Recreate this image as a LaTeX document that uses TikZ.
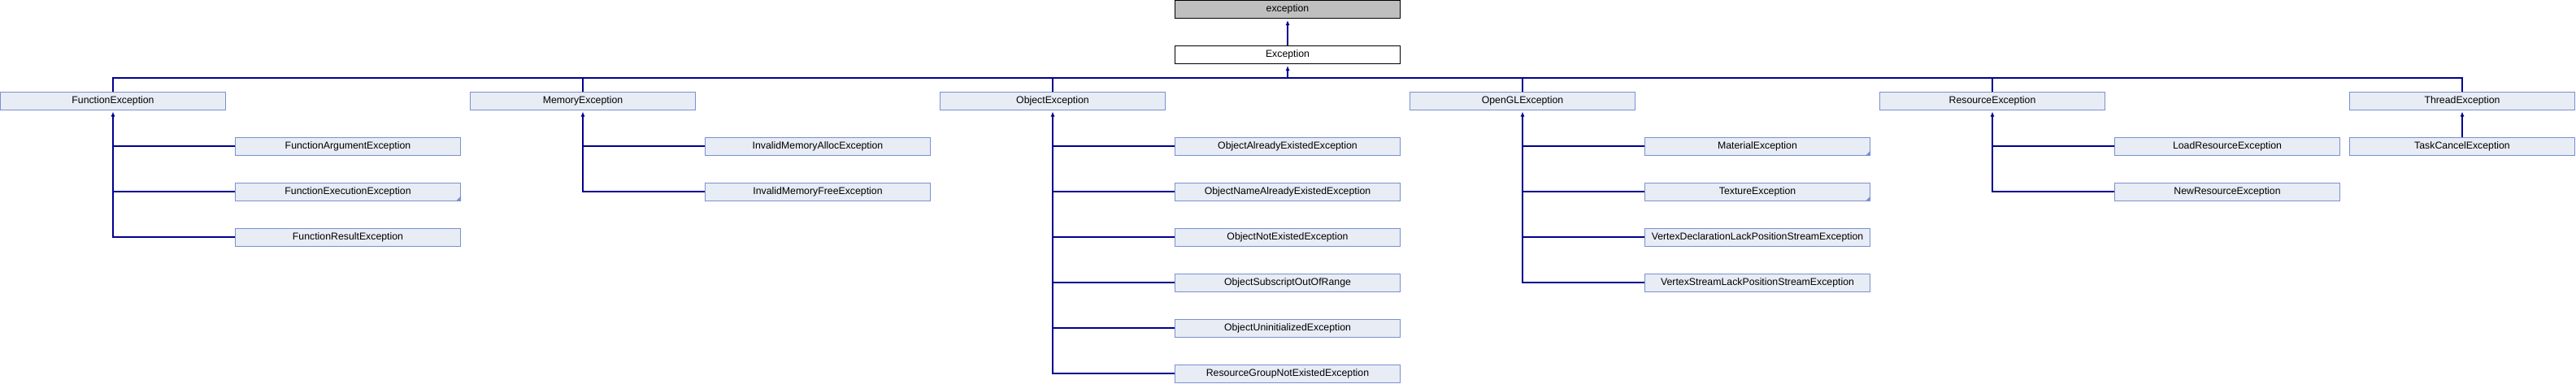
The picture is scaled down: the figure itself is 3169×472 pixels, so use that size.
\documentclass[tikz,border=0pt]{standalone}
\usepackage{fontspec}
\setmainfont{Liberation Sans}
\usetikzlibrary{arrows.meta}
\definecolor{boxfill}{RGB}{232,236,245}
\definecolor{boxline}{RGB}{122,145,208}
\definecolor{conn}{RGB}{0,0,140}
\definecolor{topfill}{RGB}{191,191,191}
\tikzset{
  cls/.style={draw=boxline, fill=boxfill, line width=1pt, minimum width=277pt, minimum height=22pt, inner sep=0pt, font=\fontsize{12.3}{14}\selectfont},
  rootcls/.style={cls, draw=black, fill=topfill},
  basecls/.style={cls, draw=black, fill=white},
  link/.style={draw=conn, line width=1.1pt},
  arr/.style={link, -{Latex[length=6pt,width=5pt]}, shorten >=2pt},
  more/.style={fill=boxline}
}
\begin{document}
\begin{tikzpicture}[x=1pt,y=-1pt]
\useasboundingbox (0,0) rectangle (3169,472);
% top
\node[rootcls] (root) at (1584,11.5) {exception};
\node[basecls] (exc) at (1584,67.5) {Exception};
% level 2
\node[cls] (fe) at (139,124) {FunctionException};
\node[cls] (me) at (717,124) {MemoryException};
\node[cls] (oe) at (1295,124) {ObjectException};
\node[cls] (ge) at (1873,124) {OpenGLException};
\node[cls] (re) at (2451,124) {ResourceException};
\node[cls] (te) at (3029,124) {ThreadException};
% children
\node[cls] (fa) at (428,180) {FunctionArgumentException};
\node[cls] (fx) at (428,236) {FunctionExecutionException};
\node[cls] (fr) at (428,292) {FunctionResultException};
\node[cls] (ma) at (1006,180) {InvalidMemoryAllocException};
\node[cls] (mf) at (1006,236) {InvalidMemoryFreeException};
\node[cls] (o1) at (1584,180) {ObjectAlreadyExistedException};
\node[cls] (o2) at (1584,236) {ObjectNameAlreadyExistedException};
\node[cls] (o3) at (1584,292) {ObjectNotExistedException};
\node[cls] (o4) at (1584,348) {ObjectSubscriptOutOfRange};
\node[cls] (o5) at (1584,404) {ObjectUninitializedException};
\node[cls] (o6) at (1584,460) {ResourceGroupNotExistedException};
\node[cls] (g1) at (2162,180) {MaterialException};
\node[cls] (g2) at (2162,236) {TextureException};
\node[cls] (g3) at (2162,292) {VertexDeclarationLackPositionStreamException};
\node[cls] (g4) at (2162,348) {VertexStreamLackPositionStreamException};
\node[cls] (r1) at (2740,180) {LoadResourceException};
\node[cls] (r2) at (2740,236) {NewResourceException};
\node[cls] (t1) at (3029,180) {TaskCancelException};
% "more" markers
\foreach \n in {fx,g1,g2}{
  \fill[more] (\n.south east) -- ++(-6,0) -- ++(6,-6) -- cycle;
}
% top connectors
\draw[arr] (root.north |- exc.north) -- (root.south);
\coordinate (bus) at (1584,96);
\draw[arr] (bus) -- (exc.south);
\draw[link] (fe.north) -- (fe.north |- bus) -- (te.north |- bus) -- (te.north);
\foreach \n in {me,oe,ge,re}{
  \draw[link] (\n.north) -- (\n.north |- bus);
}
% children connectors
\draw[arr] (fr.west) -| (fe.south);
\foreach \n in {fa,fx}{\draw[link] (\n.west) -- (\n.west -| fe.south);}
\draw[arr] (mf.west) -| (me.south);
\draw[link] (ma.west) -- (ma.west -| me.south);
\draw[arr] (o6.west) -| (oe.south);
\foreach \n in {o1,o2,o3,o4,o5}{\draw[link] (\n.west) -- (\n.west -| oe.south);}
\draw[arr] (g4.west) -| (ge.south);
\foreach \n in {g1,g2,g3}{\draw[link] (\n.west) -- (\n.west -| ge.south);}
\draw[arr] (r2.west) -| (re.south);
\draw[link] (r1.west) -- (r1.west -| re.south);
\draw[arr] (t1.north) -- (te.south);
\end{tikzpicture}
\end{document}
